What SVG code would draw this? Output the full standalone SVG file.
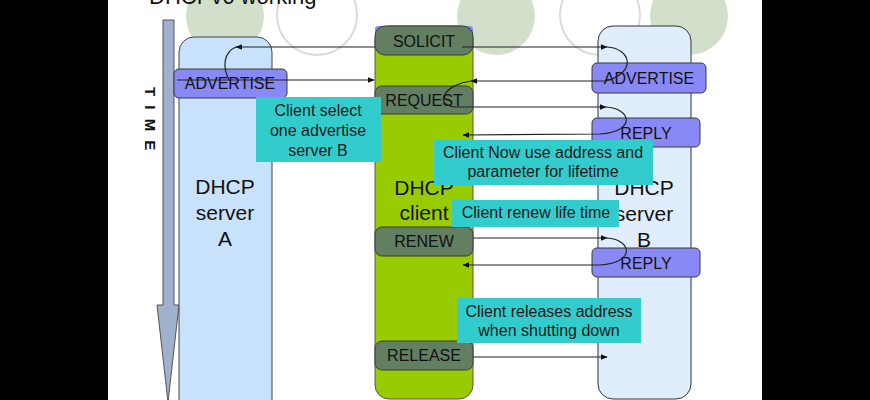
<svg xmlns="http://www.w3.org/2000/svg" width="870" height="400" viewBox="0 0 870 400">
<defs>
<marker id="ah" viewBox="0 0 10 10" refX="9" refY="5" markerWidth="7" markerHeight="7" orient="auto" markerUnits="userSpaceOnUse">
<path d="M0,1 L10,5 L0,9 z" fill="#111"/>
</marker>
</defs>
<style>
text{font-family:"Liberation Sans",Arial,sans-serif;fill:#111}
.big{font-size:21px}
.lbl{font-size:16px;text-anchor:middle}
.note{font-size:16px;text-anchor:middle;fill:#1a1a1a}
.cmd{fill:#627f62;stroke:#3a3a3a;stroke-width:1}
.msg{fill:#8989f6;stroke:#3a3a3a;stroke-width:1}
.nb{fill:#33cccc}
.cf{fill:#d2dfcb}
.co{fill:none;stroke:#d9ddd6;stroke-width:2}
.ln{fill:none;stroke:#222;stroke-width:1.2}
</style>
<rect x="0" y="0" width="870" height="400" fill="#000"/>
<rect x="108" y="0" width="654" height="400" fill="#fff"/>
<g id="decor">
<circle class="cf" cx="225" cy="16" r="39"/>
<circle class="co" cx="317" cy="15" r="40"/>
<circle class="cf" cx="496" cy="16" r="39"/>
<circle class="co" cx="600" cy="15" r="40"/>
<circle class="cf" cx="689" cy="16" r="39"/>
</g>
<text x="149" y="4" style="font-size:22px">DHCPv6 working</text>
<g id="time">
<polygon points="163,20 174,20 174,305 179,305 168,402 157,305 163,305" fill="#9fb1cc" stroke="#555" stroke-width="1"/>
<text transform="translate(145,87) rotate(90)" style="font-size:15px;font-weight:bold;letter-spacing:2.5px">T I M E</text>
</g>
<g id="serverA">
<rect x="179" y="37" width="93" height="380" rx="15" fill="#c9e2fb" stroke="#444" stroke-width="1"/>
<text class="big" text-anchor="middle" x="225" y="194">DHCP</text>
<text class="big" text-anchor="middle" x="225" y="220">server</text>
<text class="big" text-anchor="middle" x="225" y="246">A</text>
</g>
<g id="serverB">
<rect x="598" y="26" width="93" height="373" rx="15" fill="#dfedfc" stroke="#333" stroke-width="1"/>
<text class="big" text-anchor="middle" x="644" y="195">DHCP</text>
<text class="big" text-anchor="middle" x="644" y="221">server</text>
<text class="big" text-anchor="middle" x="644" y="247">B</text>
</g>
<g id="client">
<rect x="375" y="26" width="98" height="373" rx="14" fill="#99cc00" stroke="#555" stroke-width="1"/>
<rect x="375" y="26" width="98" height="16" rx="3" fill="#8c8cf0"/>
<text class="big" text-anchor="middle" x="424" y="195">DHCP</text>
<text class="big" text-anchor="middle" x="424" y="220">client</text>
</g>
<g id="solicit"><rect class="cmd" x="375" y="26" width="98" height="29" rx="10"/><text class="lbl" x="424" y="47">SOLICIT</text></g>
<g id="request"><rect class="cmd" x="375" y="86" width="98" height="28" rx="7"/><text class="lbl" x="424" y="106">REQUEST</text></g>
<g id="renew"><rect class="cmd" x="375" y="227" width="98" height="29" rx="7"/><text class="lbl" x="424" y="247">RENEW</text></g>
<g id="release"><rect class="cmd" x="375" y="341" width="98" height="29" rx="7"/><text class="lbl" x="424" y="361">RELEASE</text></g>
<g id="advA"><rect class="msg" x="174" y="69" width="113" height="29" rx="5"/><text class="lbl" x="230" y="89">ADVERTISE</text></g>
<g id="advB"><rect class="msg" x="592" y="63" width="114" height="30" rx="5"/><text class="lbl" x="649" y="84">ADVERTISE</text></g>
<g id="reply1"><rect class="msg" x="592" y="118" width="108" height="29" rx="5"/><text class="lbl" x="646" y="139">REPLY</text></g>
<g id="reply2"><rect class="msg" x="592" y="248" width="108" height="29" rx="5"/><text class="lbl" x="646" y="269">REPLY</text></g>
<g id="connectors">
<path class="ln" d="M375,47 L236,47" marker-end="url(#ah)"/>
<path class="ln" d="M236,47 C224,52 222,66 229,80"/>
<path class="ln" d="M177,80 L374,80" marker-end="url(#ah)"/>
<path class="ln" d="M462,47 L607,47" marker-end="url(#ah)"/>
<path class="ln" d="M607,47 C630,48 638,72 606,81 L471,81" marker-end="url(#ah)"/>
<path class="ln" d="M471,81 C446,84 432,104 455,107 L606,107" marker-end="url(#ah)"/>
<path class="ln" d="M606,107 C630,108 638,131 600,134 L463,135" marker-end="url(#ah)"/>
<path class="ln" d="M473,238 L607,238" marker-end="url(#ah)"/>
<path class="ln" d="M607,238 C630,239 638,262 600,265 L463,265" marker-end="url(#ah)"/>
<path class="ln" d="M473,357 L607,357" marker-end="url(#ah)"/>
</g>
<g id="note1"><rect class="nb" x="256" y="97" width="125" height="65"/>
<text class="note" x="318" y="116">Client select</text>
<text class="note" x="318" y="136">one  advertise</text>
<text class="note" x="318" y="156">server B</text></g>
<g id="note2"><rect class="nb" x="434" y="140" width="219" height="45"/>
<text class="note" x="543" y="158">Client Now use address and</text>
<text class="note" x="543" y="177">parameter for lifetime</text></g>
<g id="note3"><rect class="nb" x="452" y="200" width="167" height="27"/>
<text class="note" x="536" y="218">Client renew life time</text></g>
<g id="note4"><rect class="nb" x="457" y="298" width="184" height="45"/>
<text class="note" x="549" y="317">Client releases address</text>
<text class="note" x="549" y="336">when shutting down</text></g>
</svg>
